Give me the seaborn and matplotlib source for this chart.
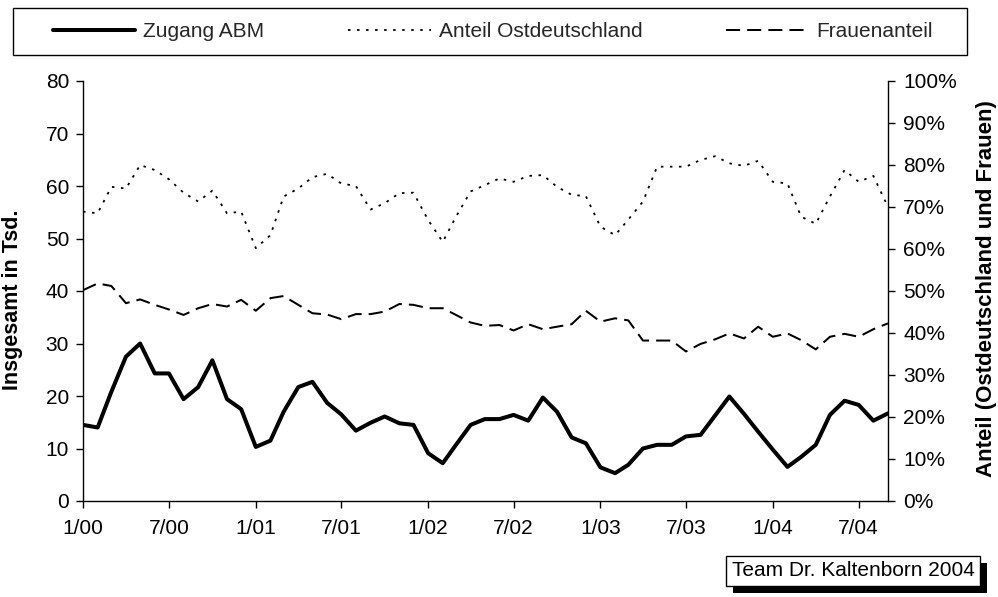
"""
ABM-Zugang mit Anteil Ostdeutschland und Frauenanteil, 1/00 - 9/04.
Output: out.png
"""

import matplotlib
matplotlib.use("Agg")

import matplotlib.pyplot as plt
import matplotlib.dates as mdates
import matplotlib.ticker as mticker
from matplotlib.patches import Rectangle
import seaborn as sns
import pandas as pd

# ---------------------------------------------------------------------------
# Data
# ---------------------------------------------------------------------------

MONTHS = pd.date_range("2000-01-01", "2004-09-01", freq="MS")

# Zugang ABM, in Tsd.
ZUGANG_ABM = [
    14.5, 14.0, 20.8, 27.5, 30.0, 24.3, 24.3, 19.4, 21.7, 26.8, 19.4, 17.5,
    10.3, 11.5, 17.0, 21.7, 22.7, 18.7, 16.5, 13.4, 14.9, 16.1, 14.8, 14.5,
    9.1, 7.2, 10.7, 14.5, 15.6, 15.6, 16.4, 15.3, 19.7, 17.0, 12.1, 11.0,
    6.4, 5.3, 6.9, 10.0, 10.7, 10.7, 12.3, 12.6, 16.3, 19.9, 16.6, 13.2,
    9.8, 6.5, 8.4, 10.7, 16.4, 19.1, 18.3, 15.3, 16.7,
]

# Anteil Ostdeutschland, in %
ANTEIL_OST = [
    68.9, 68.5, 74.8, 74.4, 80.0, 78.8, 76.6, 73.4, 71.3, 73.9, 68.5, 68.9,
    60.2, 63.3, 72.5, 74.4, 77.1, 77.9, 75.6, 75.0, 69.4, 70.9, 73.3, 73.4,
    66.9, 61.7, 67.7, 73.7, 75.2, 76.8, 76.0, 77.4, 77.6, 74.8, 72.9, 72.6,
    65.3, 63.3, 67.0, 71.3, 79.6, 79.6, 79.6, 81.2, 82.1, 80.4, 79.8, 81.0,
    76.0, 75.6, 67.7, 66.0, 72.5, 78.8, 76.0, 77.4, 70.0,
]

# Frauenanteil, in %
FRAUENANTEIL = [
    50.2, 51.8, 51.2, 47.1, 48.0, 46.7, 45.6, 44.3, 45.9, 46.9, 46.3, 47.9,
    45.3, 48.3, 48.8, 46.7, 44.7, 44.4, 43.3, 44.5, 44.5, 45.1, 46.9, 46.7,
    45.9, 45.9, 44.3, 42.5, 41.7, 41.9, 40.6, 42.1, 40.9, 41.5, 42.1, 45.3,
    42.7, 43.5, 43.0, 38.2, 38.2, 38.2, 35.6, 37.4, 38.5, 39.9, 38.7, 41.5,
    39.1, 39.9, 38.3, 36.1, 39.1, 39.8, 39.1, 40.9, 42.3,
]

# ---------------------------------------------------------------------------
# Style
# ---------------------------------------------------------------------------

sns.set_style("white")
plt.rcParams["font.family"] = ["Liberation Sans", "DejaVu Sans"]

FS = 15
INK = "black"
DOTTED = (0, (1.4, 3.6))
DASHED = (0, (7, 3.5))

W, H = 998, 597


def fx(px):
    return px / W


def fy(px):
    return 1 - px / H


fig = plt.figure(figsize=(W / 100, H / 100), dpi=100)
ax = fig.add_axes([fx(83), fy(501), fx(888) - fx(83), fy(81) - fy(501)])
ax2 = ax.twinx()

sns.lineplot(x=MONTHS, y=ZUGANG_ABM, ax=ax, color=INK, linewidth=2.9,
             label="Zugang ABM", legend=False)
sns.lineplot(x=MONTHS, y=ANTEIL_OST, ax=ax2, color=INK, linewidth=1.3,
             linestyle=DOTTED, label="Anteil Ostdeutschland", legend=False)
sns.lineplot(x=MONTHS, y=FRAUENANTEIL, ax=ax2, color=INK, linewidth=1.45,
             linestyle=DASHED, label="Frauenanteil", legend=False)

# axes
ax.set_xlim(MONTHS[0], MONTHS[-1])
ax.set_ylim(0, 80)
ax.set_yticks(range(0, 81, 10))
ax2.set_ylim(0, 100)
ax2.set_yticks(range(0, 101, 10))
ax2.yaxis.set_major_formatter(mticker.FuncFormatter(lambda v, _: f"{v:.0f}%"))

ax.xaxis.set_major_locator(mdates.MonthLocator(bymonth=[1, 7]))
ax.xaxis.set_major_formatter(mticker.FuncFormatter(
    lambda v, _: f"{mdates.num2date(v).month}/{mdates.num2date(v):%y}"))

for a in (ax, ax2):
    for sp in a.spines.values():
        sp.set_color(INK)
        sp.set_linewidth(1.0)
    a.spines["top"].set_visible(False)
    a.grid(False)
    a.set_xlabel("")
ax.spines["right"].set_visible(False)
ax2.spines["left"].set_visible(False)
ax2.spines["bottom"].set_visible(False)

ax.tick_params(axis="x", direction="out", length=5, width=1, color=INK,
               labelcolor=INK, labelsize=FS, bottom=True, pad=8)
ax.tick_params(axis="y", direction="out", length=5, width=1, color=INK,
               labelcolor=INK, labelsize=FS, left=True, pad=5)
ax2.tick_params(axis="y", direction="out", length=5, width=1, color=INK,
                labelcolor=INK, labelsize=FS, right=True, pad=6)

ax.set_ylabel("Insgesamt in Tsd.", fontsize=15.5, fontweight="bold", color=INK)
ax.yaxis.set_label_coords((23 - 83) / 805, 0.48)
ax2.set_ylabel("Anteil (Ostdeutschland und Frauen)", fontsize=16,
               fontweight="bold", color=INK, rotation=90)
ax2.yaxis.set_label_coords((976 - 83) / 805, 0.505)

# legend box across the top
fig.add_artist(Rectangle((fx(13), fy(55)), fx(967) - fx(13), fy(8) - fy(55),
                         transform=fig.transFigure, fill=False, ec=INK, lw=1.0))
h1, l1 = ax.get_legend_handles_labels()
h2, l2 = ax2.get_legend_handles_labels()
fig.legend(h1 + h2, l1 + l2, loc="center", ncol=3, mode="expand",
           bbox_to_anchor=(fx(53), fy(55), fx(933) - fx(53), fy(8) - fy(55)),
           frameon=False, borderpad=0, borderaxespad=0, handlelength=3.95,
           handletextpad=0.38, fontsize=FS)

# footer box with a drop shadow
foot = fig.text(fx(853), fy(571), "Team Dr. Kaltenborn 2004", ha="center",
                va="center", fontsize=FS, color=INK, zorder=5,
                bbox=dict(boxstyle="square,pad=0.25", fc="white", ec=INK, lw=1))
fig.canvas.draw()
bb = foot.get_bbox_patch().get_window_extent()
fig.add_artist(Rectangle((bb.x0 + 7, bb.y0 - 7), bb.width, bb.height,
                         transform=None, fc=INK, ec=INK, lw=0, zorder=4))

fig.savefig("out.png", dpi=100)
